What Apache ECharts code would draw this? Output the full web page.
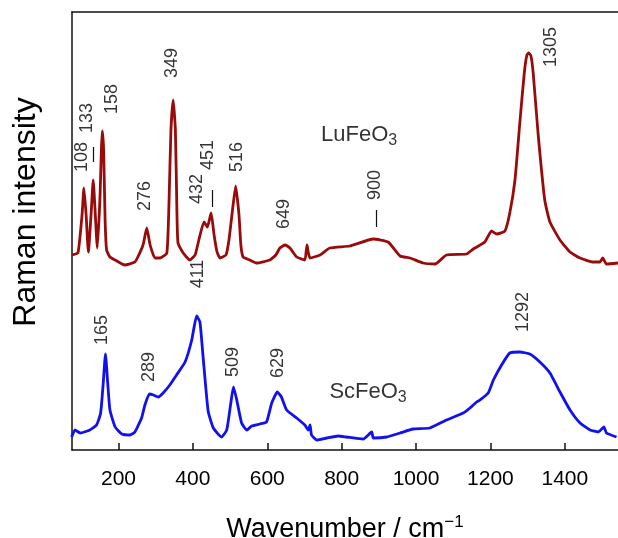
<!DOCTYPE html>
<html>
<head>
<meta charset="utf-8">
<script src="https://cdn.jsdelivr.net/npm/echarts@6/dist/echarts.min.js"></script>
<style>
html,body{margin:0;padding:0;background:#fff;}
#main{width:618px;height:538px;}
</style>
</head>
<body>
<div id="main"></div>
<script>
// LuFeO3 spectrum (offset upward), [wavenumber, intensity]
var luFeO3 = [[75,195],[91,197],[102,235],[107,262],[113,235],[119,198],[127,240],[132,270],[137,240],[143,202],
	[150,250],[154,300],[156.5,319],[160,300],[164,230],[168,200],[177,193],[191,190],[217,185],[244,188],
	[252,193],[266,205],[276,222],[285,205],[298,192],[312,192],[330,197],[336,250],[341,320],[347,350],
	[353,320],[357,240],[360,207],[374,197],[392,190],[406,195],[416,210],[430,228],[439,223],[449,237],
	[457,215],[465,198],[473,192],[489,195],[497,210],[505,235],[515,264],[524,235],[529,205],[535,193],
	[553,190],[571,187],[607,190],[623,195],[634,202],[648,205],[661,202],[679,193],[701,190],[705,200],
	[707,205],[710,198],[715,192],[742,195],[768,202],[822,204],[885,211],[925,208],[957,194],[984,192],
	[1019,187],[1051,186],[1082,195],[1136,196],[1154,201],[1185,208],[1203,219],[1217,216],[1239,219],[1252,237],
	[1266,270],[1279,327],[1291,377],[1298,395],[1303,397],[1309,394],[1315,377],[1328,317],[1346,250],[1360,228],
	[1387,210],[1414,198],[1441,192],[1476,188],[1494,188],[1502,192],[1512,186],[1543,187]];

// ScFeO3 spectrum
var scFeO3 = [[74,13],[83,20],[97,17],[123,20],[141,25],[152,37],[159,67],[165,96],[171,67],[177,40],
	[191,23],[209,16],[231,15],[244,18],[262,32],[271,45],[283,56],[294,55],[307,53],[320,57],
	[338,65],[356,75],[379,88],[397,110],[410,134],[419,128],[427,95],[441,39],[455,22],[477,13],
	[491,20],[502,47],[509,63],[518,50],[531,27],[545,20],[558,24],[580,26],[598,28],[612,47],
	[627,58],[638,53],[652,40],[679,32],[701,25],[710,20],[715,25],[719,15],[733,10],[760,12],
	[791,14],[813,13],[858,11],[881,18],[885,12],[921,13],[957,17],[992,21],[1037,22],[1082,30],
	[1127,37],[1145,42],[1163,48],[1172,50],[1194,57],[1208,70],[1230,85],[1252,97],[1279,98],[1306,96],
	[1333,88],[1360,77],[1387,58],[1414,40],[1441,27],[1468,20],[1490,18],[1505,23],[1512,17],[1539,13]];

var xTicks = [200,400,600,800,1000,1200,1400];

// peak labels and where they sit
var peakNames = ['108','133','158','276','349','432','451','516','649','900','1305',
	'165','289','411','509','629','1292'];
var peakAt = [[101,293],[116,332],[182,351],[271,254],[343,387],[410,261],[441,295],[518,293],[645,236],[889,265],[1362,403],
	[155,120],[283,83],[414,176],[509,88],[629,87],[1288,138]];

// short marker lines above some peaks
var leaders = [[[132,288],[132,303]],[[453,243],[453,260]],[[894,223],[894,240]]];

var sampleNames = ['LuFeO', 'ScFeO'];
var sampleAt = [[847,315],[871,58]];

var FONT = 'Liberation Sans, Arial, sans-serif';

function buildPeaks(){
	var out = [];
	for(var i = 0;i<peakNames.length;i++){
		out.push({name:peakNames[i], value:peakAt[i]});
	}
	return out;
}

function buildSamples(){
	var out = [];
	for(var i = 0;i<sampleNames.length;i++){
		out.push({name:sampleNames[i], value:sampleAt[i]});
	}
	return out;
}

function buildLeaders(){
	var out = [];
	for(var i = 0;i<leaders.length;i++){
		out.push([{coord:leaders[i][0]},{coord:leaders[i][1]}]);
	}
	return out;
}

var chart = echarts.init(document.getElementById('main'));

var option = {
	animation:false,
	backgroundColor:'#fff',
	grid:{left:72, right:0, top:12, bottom:88, outerBoundsMode:'none', containLabel:false},
	//纵轴标题
	graphic:[{
		type:'text',
		x:26,
		y:212,
		rotation:Math.PI/2,
		style:{
			text:'Raman intensity',
			fontSize:32,
			fontFamily:FONT,
			fill:'#000',
			align:'center',
			verticalAlign:'middle'
		}
	}],
	xAxis:[{
		type:'value',
		min:75,
		max:1543,
		axisLine:{lineStyle:{color:'#111', width:1.5}},
		axisTick:{inside:true, length:7, customValues:xTicks, lineStyle:{color:'#111', width:1.5}},
		axisLabel:{
			customValues:xTicks,
			color:'#000',
			fontSize:21,
			fontFamily:FONT,
			margin:19,
			formatter:function(v){ return String(v); }
		},
		splitLine:{show:false},
		name:'{a|Wavenumber / cm}{s|−1}',
		nameLocation:'middle',
		nameGap:64,
		nameTextStyle:{
			rich:{
				a:{fontSize:27, fontFamily:FONT, color:'#000'},
				s:{fontSize:17, fontFamily:FONT, color:'#000', verticalAlign:'top', padding:[0,0,15,0]}
			}
		}
	},{
		type:'value',
		position:'top',
		min:75,
		max:1543,
		axisLine:{show:true, lineStyle:{color:'#111', width:1.5}},
		axisTick:{show:false},
		axisLabel:{show:false},
		splitLine:{show:false}
	}],
	yAxis:{
		type:'value',
		min:0,
		max:438,
		axisLine:{show:true, lineStyle:{color:'#111', width:1.5}},
		axisTick:{show:false},
		axisLabel:{show:false},
		splitLine:{show:false}
	},
	series:[{
		name:'LuFeO3',
		type:'line',
		data:luFeO3,
		showSymbol:false,
		smooth:0.15,
		lineStyle:{color:'#990a0a', width:2.8},
		markLine:{
			silent:true,
			symbol:'none',
			label:{show:false},
			lineStyle:{color:'#111', width:1.2, type:'solid'},
			data:buildLeaders()
		}
	},{
		name:'ScFeO3',
		type:'line',
		data:scFeO3,
		showSymbol:false,
		smooth:0.15,
		lineStyle:{color:'#1010f0', width:2.8}
	},{
		//峰位标注
		type:'scatter',
		data:buildPeaks(),
		symbolSize:0,
		silent:true,
		label:{
			show:true,
			position:'inside',
			rotate:90,
			formatter:'{b}',
			fontSize:18,
			fontFamily:FONT,
			color:'#000'
		}
	},{
		type:'scatter',
		data:buildSamples(),
		symbolSize:0,
		silent:true,
		label:{
			show:true,
			position:'inside',
			formatter:'{a|{b}}{s|3}',
			rich:{
				a:{fontSize:22, fontFamily:FONT, color:'#000'},
				s:{fontSize:16, fontFamily:FONT, color:'#000', verticalAlign:'bottom', padding:[11,0,0,0]}
			}
		}
	}]
};

chart.setOption(option);
</script>
</body>
</html>
